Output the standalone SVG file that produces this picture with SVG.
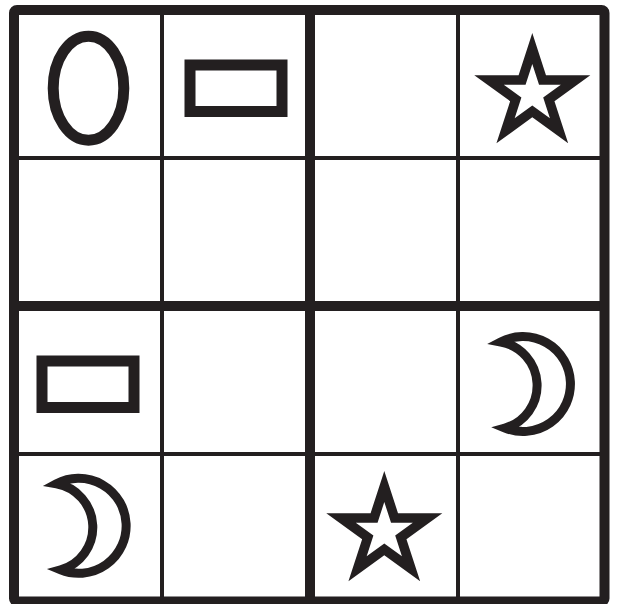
<svg xmlns="http://www.w3.org/2000/svg" width="618" height="604" viewBox="0 0 618 604">
<defs>
<style>
.thin{stroke:#231f20;stroke-width:4;fill:none}
.thick{stroke:#231f20;stroke-width:10;fill:none}
.shape{stroke:#231f20;stroke-width:11;fill:none}
.moon{stroke:#231f20;stroke-width:9;fill:none;stroke-miterlimit:10}
.star{fill:#231f20;fill-rule:evenodd}
</style>
<path id="starShape" class="star" d="M0,-61 L13.70,-18.85 L58.02,-18.85 L22.16,7.20 L35.86,49.35 L0,23.3 L-35.86,49.35 L-22.16,7.20 L-58.02,-18.85 L-13.70,-18.85 Z M0,-30 L6.74,-9.27 L28.53,-9.27 L10.90,3.54 L17.63,24.27 L0,11.46 L-17.63,24.27 L-10.90,3.54 L-28.53,-9.27 L-6.74,-9.27 Z"/>
<path id="moonShape" class="moon" d="M500.8,342 A47.5,47.5 0 1 1 505,428 A44.2,44.2 0 0 0 500.8,342 Z"/>
</defs>
<rect width="618" height="604" fill="#ffffff"/>
<g id="grid">
<line class="thin" x1="162" y1="10" x2="162" y2="601"/>
<line class="thin" x1="458" y1="10" x2="458" y2="601"/>
<line class="thin" x1="14" y1="158" x2="604" y2="158"/>
<line class="thin" x1="14" y1="454" x2="604" y2="454"/>
<line class="thick" x1="310" y1="10" x2="310" y2="601"/>
<line class="thick" x1="14" y1="306" x2="604" y2="306"/>
<rect class="thick" x="14" y="10" width="590.5" height="591.5" rx="3" stroke-linejoin="round"/>
</g>
<g id="ellipse-r1c1"><ellipse class="shape" cx="88.5" cy="88.2" rx="35.3" ry="52"/></g>
<g id="rect-r1c2"><rect class="shape" x="190" y="65" width="92" height="46.5"/></g>
<g id="star-r1c4"><use href="#starShape" transform="translate(532.3,94)"/></g>
<g id="rect-r3c1"><rect class="shape" x="42" y="361" width="92" height="46.5"/></g>
<g id="moon-r3c4"><use href="#moonShape"/></g>
<g id="moon-r4c1"><use href="#moonShape" transform="translate(-444.3,141.8)"/></g>
<g id="star-r4c3"><use href="#starShape" transform="translate(384.3,532)"/></g>
</svg>
